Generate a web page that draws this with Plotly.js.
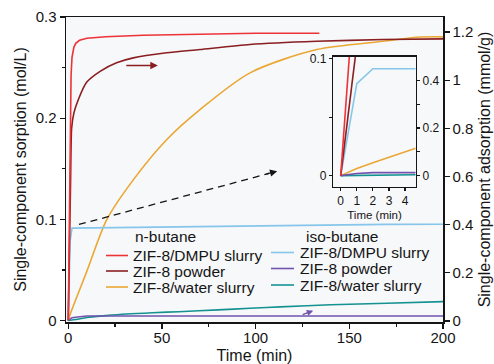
<!DOCTYPE html>
<html>
<head>
<meta charset="utf-8">
<script src="https://cdn.plot.ly/plotly-3.0.1.min.js"></script>
<style>html,body{margin:0;padding:0;background:#fff;}#chart{width:494px;height:364px;}</style>
</head>
<body>
<div id="chart"></div>
<script>
// ---------- data ----------
const seriesNames = ['ZIF-8/DMPU slurry', 'ZIF-8 powder', 'ZIF-8/water slurry'];
const groupNames = ['n-butane', 'iso-butane'];

// n-butane, main panel (time in min, sorption in mol/L)
const tNbDmpu = [0, 0.5, 1, 1.5, 2, 2.5, 3, 4, 6, 10, 20, 40, 70, 100, 134];
const nbDmpu  = [0, 0.1, 0.19, 0.242, 0.26, 0.266, 0.27, 0.274, 0.277, 0.279, 0.2805, 0.282, 0.283, 0.284, 0.284];
const tNbPowder = [0, 0.4, 0.89, 1.2, 1.8, 3, 5.3, 9.8, 17, 25.8, 34.7, 52.5, 70.2, 96.9, 132.5, 168, 200];
const nbPowder  = [0, 0.045, 0.1, 0.132, 0.19, 0.205, 0.218, 0.2354, 0.2463, 0.2547, 0.2596, 0.2646, 0.2678, 0.2728, 0.276, 0.2777, 0.2784];
const tNbWater = [0, 1, 2, 3, 4, 4.6, 10, 20.5, 34.7, 52.5, 70.3, 97, 132.6, 168, 186, 200];
const nbWater  = [0, 0.006, 0.011, 0.0158, 0.0206, 0.0235, 0.049, 0.0995, 0.139, 0.1787, 0.2084, 0.2448, 0.2678, 0.276, 0.28, 0.2804];

// iso-butane, main panel
const tIbDmpu = [0, 1, 2, 10, 30, 60, 100, 134, 170, 200];
const ibDmpu  = [0, 0.0786, 0.0913, 0.0915, 0.092, 0.0928, 0.0937, 0.0945, 0.095, 0.0952];
const tIbPowder = [0, 1, 2, 5, 10, 50, 100, 150, 200];
const ibPowder  = [0, 0.0018, 0.0028, 0.0035, 0.0044, 0.0045, 0.0045, 0.0045, 0.0045];
const tIbWater = [0, 2, 5, 10, 20, 31, 45, 59, 80, 97, 113, 140, 170, 200];
const ibWater  = [0, 0.0005, 0.0012, 0.003, 0.0048, 0.0064, 0.0077, 0.0087, 0.0105, 0.0121, 0.0135, 0.0155, 0.017, 0.0186];

// inset (first minutes)
const tInNbDmpu = [0, 1];              const inNbDmpu = [0, 0.19];
const tInNbPowder = [0, 1];            const inNbPowder = [0, 0.112];
const tInNbWater = [0, 1, 2, 3, 4, 4.66]; const inNbWater = [0, 0.006, 0.0111, 0.0158, 0.0206, 0.0235];
const tInIbDmpu = [0, 1, 2, 4.66];     const inIbDmpu = [0, 0.0786, 0.0914, 0.0914];
const tInIbPowder = [0, 1, 2, 4.66];   const inIbPowder = [0, 0.0018, 0.0026, 0.0026];
const tInIbWater = [0, 1, 2, 4.66];    const inIbWater = [0, 0.0003, 0.0005, 0.0008];

// tick labels
const xTicks = [0, 50, 100, 150, 200];
const yLeftTicks = [0, 0.1, 0.2, 0.3];
const yLeftLabels = ['0', '0.1', '0.2', '0.3'];
const yRightTicks = [0, 0.2, 0.4, 0.6, 0.8, 1, 1.2];
const yRightLabels = ['0', '0.2', '0.4', '0.6', '0.8', '1', '1.2'];
const inXTicks = [0, 1, 2, 3, 4];
const inYLeftTicks = [0, 0.05, 0.1];
const inYLeftLabels = ['0', '', '0.1'];
const inYRightTicks = [0, 0.1, 0.2, 0.3, 0.4];
const inYRightLabels = ['0', '', '0.2', '', '0.4'];

// ---------- styling ----------
const FONT = '"Liberation Sans", Arial, Helvetica, sans-serif';
const INK = '#151515';
const nbColors = ['#ee3338', '#8a1f22', '#eaa733'];
const ibColors = ['#85c6ea', '#7253ae', '#149291'];
const LW = 1.6;

const W = 494, H = 364;
const M = {l: 66, r: 51, t: 17, b: 42};
const PW = W - M.l - M.r, PH = H - M.t - M.b;
const px2x = p => (p - M.l) / PW;
const px2y = p => (H - M.b - p) / PH;

function line(x, y, color, xa, ya, smooth) {
  const ln = {color: color, width: LW};
  if (smooth) { ln.shape = 'spline'; ln.smoothing = smooth; }
  return {x: x, y: y, type: 'scatter', mode: 'lines', xaxis: xa, yaxis: ya,
          line: ln, showlegend: false, hoverinfo: 'skip'};
}

const traces = [
  line(tNbWater, nbWater, nbColors[2], 'x', 'y', 0.8),
  line(tIbWater, ibWater, ibColors[2], 'x', 'y', 0.8),
  line(tIbPowder, ibPowder, ibColors[1], 'x', 'y'),
  line(tIbDmpu, ibDmpu, ibColors[0], 'x', 'y'),
  line(tNbPowder, nbPowder, nbColors[1], 'x', 'y', 0.6),
  line(tNbDmpu, nbDmpu, nbColors[0], 'x', 'y'),
  {x: [], y: [], type: 'scatter', xaxis: 'x', yaxis: 'y2', showlegend: false},
  line(tInIbWater, inIbWater, ibColors[2], 'x3', 'y3'),
  line(tInNbWater, inNbWater, nbColors[2], 'x3', 'y3'),
  line(tInIbDmpu, inIbDmpu, ibColors[0], 'x3', 'y3'),
  line(tInIbPowder, inIbPowder, ibColors[1], 'x3', 'y3'),
  line(tInNbPowder, inNbPowder, nbColors[1], 'x3', 'y3'),
  line(tInNbDmpu, inNbDmpu, nbColors[0], 'x3', 'y3'),
  {x: [], y: [], type: 'scatter', xaxis: 'x3', yaxis: 'y4', showlegend: false}
];

const axBase = {
  showgrid: false, zeroline: false, showline: true, linecolor: INK, linewidth: 1.5,
  ticks: 'outside', tickcolor: INK, tickwidth: 1.2, fixedrange: true,
  tickfont: {family: FONT, size: 15, color: INK}
};

const shapes = [];
const annotations = [];

// manual two-block legend
const legendBlocks = [
  {title: groupNames[0], colors: nbColors, titleX: 165, titleY: 236.5, lineX0: 106, lineX1: 128, textX: 131, rowY: [255.5, 271, 287]},
  {title: groupNames[1], colors: ibColors, titleX: 341.5, titleY: 236, lineX0: 271, lineX1: 294, textX: 298, rowY: [252.5, 268.5, 285]}
];
legendBlocks.forEach(b => {
  annotations.push({xref: 'paper', yref: 'paper', x: px2x(b.titleX), y: px2y(b.titleY), text: b.title,
    showarrow: false, xanchor: 'center', yanchor: 'middle', font: {family: FONT, size: 15.5, color: INK}});
  seriesNames.forEach((n, i) => {
    shapes.push({type: 'line', xref: 'paper', yref: 'paper', x0: px2x(b.lineX0), x1: px2x(b.lineX1),
      y0: px2y(b.rowY[i]), y1: px2y(b.rowY[i]), line: {color: b.colors[i], width: LW}});
    annotations.push({xref: 'paper', yref: 'paper', x: px2x(b.textX), y: px2y(b.rowY[i]), text: n,
      showarrow: false, xanchor: 'left', yanchor: 'middle', font: {family: FONT, size: 15.5, color: INK}});
  });
});

// dashed pointer to the inset
shapes.push({type: 'line', xref: 'x', yref: 'y', x0: 5.7, y0: 0.0949, x1: 107, y1: 0.1453,
  line: {color: INK, width: 1.3, dash: '7px,5px'}});
annotations.push({xref: 'x', yref: 'y', x: 111.5, y: 0.1476, ax: -12, ay: 3.2, text: '',
  showarrow: true, arrowhead: 2, arrowsize: 1.1, arrowwidth: 1.3, arrowcolor: INK});
// axis pointers
annotations.push({xref: 'x', yref: 'y', x: 47.8, y: 0.252, ax: -33, ay: 0, text: '',
  showarrow: true, arrowhead: 2, arrowsize: 1, arrowwidth: 1.5, arrowcolor: nbColors[1]});
annotations.push({xref: 'x', yref: 'y', x: 130.7, y: 0.0097, ax: -12, ay: 4.5, text: '',
  showarrow: true, arrowhead: 2, arrowsize: 0.9, arrowwidth: 1.4, arrowcolor: ibColors[1]});

const layout = {
  width: W, height: H,
  margin: M,
  paper_bgcolor: '#ffffff',
  plot_bgcolor: '#f7f8fa',
  showlegend: false,
  font: {family: FONT, color: INK},
  xaxis: Object.assign({}, axBase, {
    domain: [0, 1], anchor: 'y', range: [-1.2, 200], mirror: true, ticklen: 5,
    tickvals: xTicks, ticklabelstandoff: -4,
    minor: {tickvals: [25, 75, 125, 175], ticks: 'outside', ticklen: 3, tickcolor: INK, tickwidth: 1.2},
    title: {text: 'Time (min)', font: {family: FONT, size: 16, color: INK}, standoff: 13}
  }),
  yaxis: Object.assign({}, axBase, {
    domain: [0, 1], anchor: 'x', range: [-0.0015, 0.3], ticklen: 5,
    tickvals: yLeftTicks, ticktext: yLeftLabels,
    minor: {tickvals: [0.05, 0.15, 0.25], ticks: 'outside', ticklen: 3, tickcolor: INK, tickwidth: 1.2},
    title: {text: 'Single-component sorption (mol/L)', font: {family: FONT, size: 16, color: INK}, standoff: 5}
  }),
  yaxis2: Object.assign({}, axBase, {
    overlaying: 'y', side: 'right', anchor: 'x', range: [-0.004, 1.262], ticklen: 5,
    tickvals: yRightTicks, ticktext: yRightLabels,
    title: {text: 'Single-component adsorption (mmol/g)', font: {family: FONT, size: 16, color: INK}, standoff: 6}
  }),
  xaxis3: Object.assign({}, axBase, {
    domain: [px2x(333.3), px2x(415.7)], anchor: 'y3', range: [-0.46, 4.66], mirror: true, ticklen: 3,
    tickvals: inXTicks, tickfont: {family: FONT, size: 12, color: INK},
    title: {text: 'Time (min)', font: {family: FONT, size: 11.5, color: INK}, standoff: 3}
  }),
  yaxis3: Object.assign({}, axBase, {
    domain: [px2y(186.5), px2y(56.7)], anchor: 'x3', range: [-0.0093, 0.1017], ticklen: 3,
    tickvals: inYLeftTicks, ticktext: inYLeftLabels, tickfont: {family: FONT, size: 12, color: INK}
  }),
  yaxis4: Object.assign({}, axBase, {
    overlaying: 'y3', side: 'right', anchor: 'x3', range: [-0.0453, 0.499], ticklen: 3,
    tickvals: inYRightTicks, ticktext: inYRightLabels, tickfont: {family: FONT, size: 12, color: INK}
  }),
  shapes: shapes,
  annotations: annotations
};

Plotly.newPlot('chart', traces, layout, {staticPlot: true, displayModeBar: false});
</script>
</body>
</html>
